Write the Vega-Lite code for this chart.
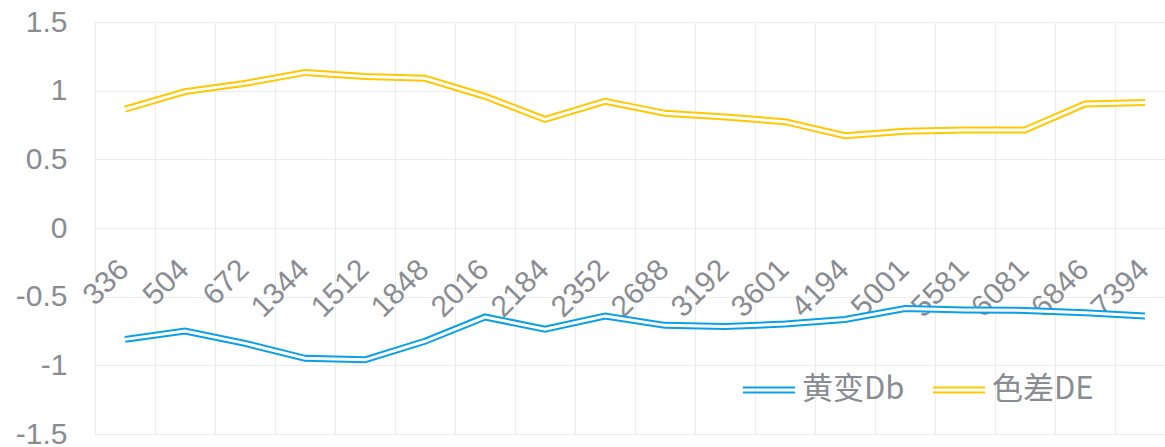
{
  "$schema": "https://vega.github.io/schema/vega-lite/v6.json",
  "width": 1070,
  "height": 412,
  "autosize": {"type": "none"},
  "padding": {"left": 95, "top": 22, "right": 0, "bottom": 13},
  "background": "white",
  "config": {"view": {"stroke": null}, "font": "Liberation Sans"},
  "data": {"values": [
    {"x": "336", "series": "黄变Db", "value": -0.811},
    {"x": "504", "series": "黄变Db", "value": -0.751},
    {"x": "672", "series": "黄变Db", "value": -0.840},
    {"x": "1344", "series": "黄变Db", "value": -0.949},
    {"x": "1512", "series": "黄变Db", "value": -0.960},
    {"x": "1848", "series": "黄变Db", "value": -0.825},
    {"x": "2016", "series": "黄变Db", "value": -0.648},
    {"x": "2184", "series": "黄变Db", "value": -0.737},
    {"x": "2352", "series": "黄变Db", "value": -0.641},
    {"x": "2688", "series": "黄变Db", "value": -0.709},
    {"x": "3192", "series": "黄变Db", "value": -0.718},
    {"x": "3601", "series": "黄变Db", "value": -0.699},
    {"x": "4194", "series": "黄变Db", "value": -0.666},
    {"x": "5001", "series": "黄变Db", "value": -0.586},
    {"x": "5581", "series": "黄变Db", "value": -0.597},
    {"x": "6081", "series": "黄变Db", "value": -0.600},
    {"x": "6846", "series": "黄变Db", "value": -0.617},
    {"x": "7394", "series": "黄变Db", "value": -0.640},
    {"x": "336", "series": "色差DE", "value": 0.865},
    {"x": "504", "series": "色差DE", "value": 0.993},
    {"x": "672", "series": "色差DE", "value": 1.053},
    {"x": "1344", "series": "色差DE", "value": 1.133},
    {"x": "1512", "series": "色差DE", "value": 1.104},
    {"x": "1848", "series": "色差DE", "value": 1.090},
    {"x": "2016", "series": "色差DE", "value": 0.959},
    {"x": "2184", "series": "色差DE", "value": 0.791},
    {"x": "2352", "series": "色差DE", "value": 0.922},
    {"x": "2688", "series": "色差DE", "value": 0.835},
    {"x": "3192", "series": "色差DE", "value": 0.808},
    {"x": "3601", "series": "色差DE", "value": 0.774},
    {"x": "4194", "series": "色差DE", "value": 0.672},
    {"x": "5001", "series": "色差DE", "value": 0.704},
    {"x": "5581", "series": "色差DE", "value": 0.714},
    {"x": "6081", "series": "色差DE", "value": 0.714},
    {"x": "6846", "series": "色差DE", "value": 0.903},
    {"x": "7394", "series": "色差DE", "value": 0.913}
  ]},
  "encoding": {
    "x": {
      "field": "x", "type": "ordinal", "sort": null,
      "scale": {"type": "band", "paddingInner": 0, "paddingOuter": 0, "range": [0, 1080]},
      "axis": {
        "title": null, "labelAngle": -45, "labelAlign": "right", "labelBaseline": "top",
        "labelFontSize": 30, "labelColor": "#898c91", "labelPadding": 26, "labelOffset": -12,
        "ticks": false, "domain": false, "grid": true, "gridColor": "#ececec", "gridWidth": 1,
        "tickBand": "extent", "offset": -206, "labelOverlap": false, "labelFlush": false, "labelBound": false
      }
    },
    "y": {
      "field": "value", "type": "quantitative",
      "scale": {"domain": [-1.5, 1.5], "nice": false, "zero": false},
      "axis": {
        "title": null, "values": [-1.5, -1, -0.5, 0, 0.5, 1, 1.5], "labelExpr": "'' + datum.value",
        "labelFontSize": 30, "labelColor": "#898c91", "labelPadding": 28, "ticks": false, "domain": false,
        "grid": true, "gridColor": "#ececec", "gridWidth": 1, "labelFlush": false, "labelOverlap": false
      }
    }
  },
  "layer": [
    {
      "mark": {"type": "line", "strokeWidth": 7},
      "encoding": {
        "color": {
          "field": "series", "type": "nominal",
          "scale": {"domain": ["黄变Db", "色差DE"], "range": ["#0aa0e8", "#ffc800"]},
          "legend": {
            "title": null, "orient": "none", "legendX": 647, "legendY": 341, "direction": "horizontal",
            "symbolType": "M-1,-0.1H1M-1,0.1H1", "symbolSize": 2704, "symbolStrokeWidth": 2,
            "symbolFillColor": "transparent",
            "labelFontSize": 31, "labelFont": "Noto Sans CJK SC", "labelColor": "#898c91",
            "labelOffset": 6, "columnPadding": 24, "padding": 0
          }
        }
      }
    },
    {
      "mark": {"type": "line", "strokeWidth": 3, "color": "white"},
      "encoding": {"detail": {"field": "series", "type": "nominal"}}
    }
  ]
}
